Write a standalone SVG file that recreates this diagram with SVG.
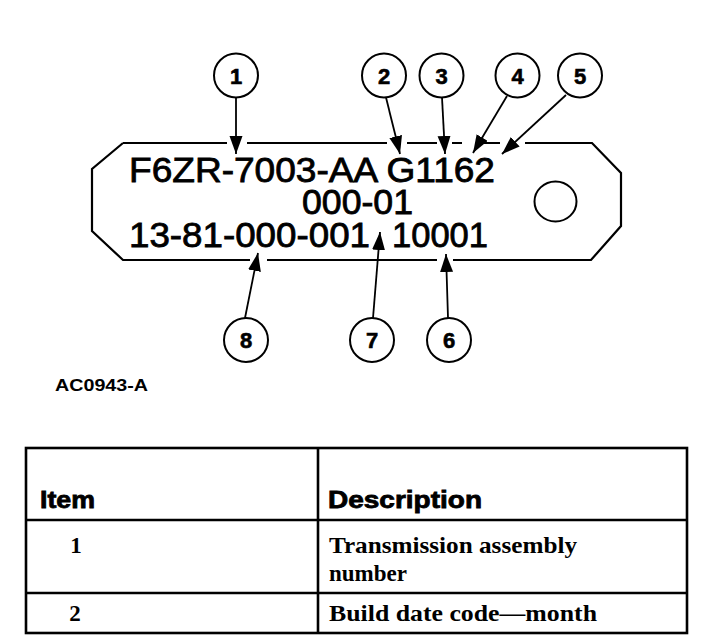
<svg xmlns="http://www.w3.org/2000/svg" width="704" height="642" viewBox="0 0 704 642">
<style>
.ln{fill:none;stroke:#000;stroke-width:2.2;stroke-linejoin:miter}
.cir{fill:#fff;stroke:#000;stroke-width:2}
.num{font-family:"Liberation Sans",Arial,sans-serif;font-weight:bold;font-size:22px;text-anchor:middle;fill:#000;stroke:#000;stroke-width:0.6}
.plt{font-family:"Liberation Sans",Arial,sans-serif;font-size:34.5px;fill:#000;stroke:#000;stroke-width:0.8}
.hd{font-family:"Liberation Sans",Arial,sans-serif;font-weight:bold;font-size:24px;fill:#000;stroke:#000;stroke-width:0.8}
.cap{font-family:"Liberation Sans",Arial,sans-serif;font-weight:bold;font-size:16.5px;fill:#000}
.ser{font-family:"Liberation Serif","Times New Roman",serif;font-weight:bold;font-size:23px;fill:#000}
.arr{fill:none;stroke:#000;stroke-width:1.8}
.tb{fill:none;stroke:#000;stroke-width:2.6}
</style>
<defs>
<marker id="ah" markerUnits="userSpaceOnUse" markerWidth="20" markerHeight="14" refX="18" refY="6.5" orient="auto">
<path d="M0,0 L18,6.5 L0,13 Z" fill="#000"/>
</marker>
</defs>
<rect width="704" height="642" fill="#fff"/>

<g id="plate">
<path class="ln" d="M123,143 L92,169 L92,231 L123,260 L250,260 M267,260 L437,260 M453,260 L591,260 L621,226 L621,173 L592,143 L525,143 M500,143 L484,143 M462,143 L452,143 M437,143 L407,143 M387,143 L247,143 M227,143 L123,143"/>
<ellipse cx="555.5" cy="201.5" rx="21" ry="20" fill="none" stroke="#000" stroke-width="2"/>
<text class="plt" x="129" y="181.5" textLength="366" lengthAdjust="spacingAndGlyphs">F6ZR-7003-AA G1162</text>
<text class="plt" x="302" y="214" textLength="111" lengthAdjust="spacingAndGlyphs">000-01</text>
<text class="plt" x="129" y="246.5" textLength="241" lengthAdjust="spacingAndGlyphs">13-81-000-001</text>
<text class="plt" x="392" y="246.5" textLength="96" lengthAdjust="spacingAndGlyphs">10001</text>
</g>

<g id="connectors">
<line class="arr" x1="236" y1="97.5" x2="236" y2="154" marker-end="url(#ah)"/>
<line class="arr" x1="386" y1="97.5" x2="400" y2="154" marker-end="url(#ah)"/>
<line class="arr" x1="442" y1="97.5" x2="445" y2="154" marker-end="url(#ah)"/>
<line class="arr" x1="507" y1="96" x2="473" y2="153" marker-end="url(#ah)"/>
<line class="arr" x1="566" y1="95" x2="502" y2="154" marker-end="url(#ah)"/>
<line class="arr" x1="245" y1="318" x2="258" y2="253" marker-end="url(#ah)"/>
<line class="arr" x1="373" y1="318" x2="380" y2="232" marker-end="url(#ah)"/>
<line class="arr" x1="448" y1="318" x2="446" y2="254" marker-end="url(#ah)"/>
</g>

<g id="callout-1"><circle class="cir" cx="236" cy="75.5" r="22"/><text class="num" x="236" y="83.5">1</text></g>
<g id="callout-2"><circle class="cir" cx="384" cy="75.5" r="22"/><text class="num" x="384" y="83.5">2</text></g>
<g id="callout-3"><circle class="cir" cx="441.5" cy="75.5" r="22"/><text class="num" x="441.5" y="83.5">3</text></g>
<g id="callout-4"><circle class="cir" cx="517.5" cy="75.5" r="22"/><text class="num" x="517.5" y="83.5">4</text></g>
<g id="callout-5"><circle class="cir" cx="580" cy="75.5" r="22"/><text class="num" x="580" y="83.5">5</text></g>
<g id="callout-8"><circle class="cir" cx="246" cy="340" r="22"/><text class="num" x="246" y="348">8</text></g>
<g id="callout-7"><circle class="cir" cx="372" cy="340" r="22"/><text class="num" x="372" y="348">7</text></g>
<g id="callout-6"><circle class="cir" cx="449" cy="340" r="22"/><text class="num" x="449" y="348">6</text></g>

<g id="caption">
<text class="cap" x="55" y="391" textLength="93" lengthAdjust="spacingAndGlyphs">AC0943-A</text>
</g>

<g id="table">
<rect class="tb" x="26" y="448" width="661" height="185"/>
<line class="tb" x1="318" y1="448" x2="318" y2="633"/>
<line class="tb" x1="26" y1="520" x2="687" y2="520"/>
<line class="tb" x1="26" y1="593" x2="687" y2="593"/>
<text class="hd" x="40" y="508" textLength="55" lengthAdjust="spacingAndGlyphs">Item</text>
<text class="hd" x="328" y="508" textLength="154" lengthAdjust="spacingAndGlyphs">Description</text>
<text class="ser" x="76" y="553" text-anchor="middle">1</text>
<text class="ser" x="329" y="553" textLength="248" lengthAdjust="spacingAndGlyphs">Transmission assembly</text>
<text class="ser" x="329" y="581">number</text>
<text class="ser" x="75" y="621" text-anchor="middle">2</text>
<text class="ser" x="329" y="621" textLength="268" lengthAdjust="spacingAndGlyphs">Build date code—month</text>
</g>
</svg>
